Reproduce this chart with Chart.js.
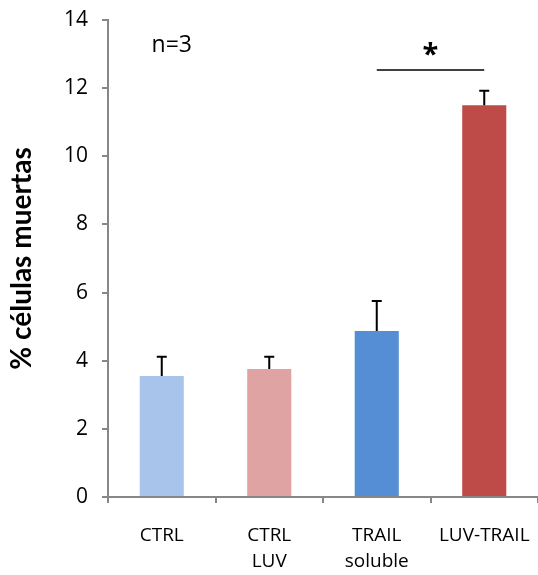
<!DOCTYPE html>
<html>
<head>
<meta charset="utf-8">
<script src="https://cdn.jsdelivr.net/npm/chart.js@4"></script>
<style>
  html, body { margin: 0; padding: 0; background: #fff; }
  #wrap { width: 538px; height: 575px; }
</style>
</head>
<body>
<div id="wrap"><canvas id="chart"></canvas></div>
<script>
const categories = [['CTRL'], ['CTRL', 'LUV'], ['TRAIL', 'soluble'], ['LUV-TRAIL']];
const values = [3.55, 3.76, 4.87, 11.5];
const errors = [0.57, 0.36, 0.88, 0.42];
const colors = ['#A9C4EB', '#DFA3A3', '#558ED5', '#BE4B48'];
const sigFrom = 2, sigTo = 3, sigLevel = 12.53;

const FONT = '"Open Sans", "Noto Sans", sans-serif';
const axisGray = '#878787';

// barras de error y anotaciones
const extras = {
    id: 'extras',
    afterDatasetsDraw(chart) {
        const ctx = chart.ctx;
        const x = chart.scales.x, y = chart.scales.y;
        const meta = chart.getDatasetMeta(0);
        ctx.save();
        ctx.strokeStyle = '#000';
        ctx.lineWidth = 2;
        meta.data.forEach((bar, i) => {
            const top = y.getPixelForValue(values[i] + errors[i]);
            ctx.beginPath();
            ctx.moveTo(bar.x, bar.y);
            ctx.lineTo(bar.x, top);
            ctx.moveTo(bar.x - 5, top);
            ctx.lineTo(bar.x + 5, top);
            ctx.stroke();
        });
        // linea de significancia
        const ly = y.getPixelForValue(sigLevel);
        ctx.lineWidth = 1.5;
        ctx.beginPath();
        ctx.moveTo(x.getPixelForValue(sigFrom), ly);
        ctx.lineTo(x.getPixelForValue(sigTo), ly);
        ctx.stroke();
        ctx.fillStyle = '#000';
        ctx.textAlign = 'center';
        ctx.textBaseline = 'middle';
        ctx.font = 'bold 29px ' + FONT;
        ctx.fillText('*', (x.getPixelForValue(sigFrom) + x.getPixelForValue(sigTo)) / 2, y.getPixelForValue(12.95));
        ctx.font = '23px ' + FONT;
        ctx.fillText('n=3', x.getPixelForValue(0) + 10, y.getPixelForValue(13.25));
        ctx.restore();
    }
};

new Chart(document.getElementById('chart'), {
    type: 'bar',
    data: {
        labels: categories,
        datasets: [{
            data: values,
            backgroundColor: colors,
            borderWidth: 0,
            categoryPercentage: 1,
            barPercentage: 0.41
        }]
    },
    options: {
        responsive: true,
        maintainAspectRatio: false,
        animation: false,
        layout: { padding: { top: 20, right: 0, left: 0, bottom: 0 } },
        plugins: { legend: { display: false }, tooltip: { enabled: false } },
        scales: {
            x: {
                grid: { display: true, drawOnChartArea: false, drawTicks: true, tickLength: 6, color: axisGray, lineWidth: 2, offset: true },
                border: { color: axisGray, width: 2 },
                ticks: { color: '#000', font: { family: FONT, size: 19, lineHeight: 1.35 }, padding: 20, maxRotation: 0, autoSkip: false },
                afterFit(s) { s.height = 78; s.paddingRight = 0; s.paddingLeft = 0; }
            },
            y: {
                min: 0, max: 14,
                grid: { display: true, drawOnChartArea: false, drawTicks: true, tickLength: 6, color: axisGray, lineWidth: 2 },
                border: { color: axisGray, width: 2 },
                ticks: { stepSize: 2, color: '#000', font: { family: FONT, size: 21 }, padding: 14 },
                title: { display: true, text: '% células muertas', color: '#000', font: { family: 'Lato, sans-serif', size: 28, weight: 'bold' }, padding: { top: 5, bottom: 0 } },
                afterFit(s) { s.width = 108; s.paddingTop = 0; s.paddingBottom = 0; }
            }
        }
    },
    plugins: [extras]
});
</script>
</body>
</html>
